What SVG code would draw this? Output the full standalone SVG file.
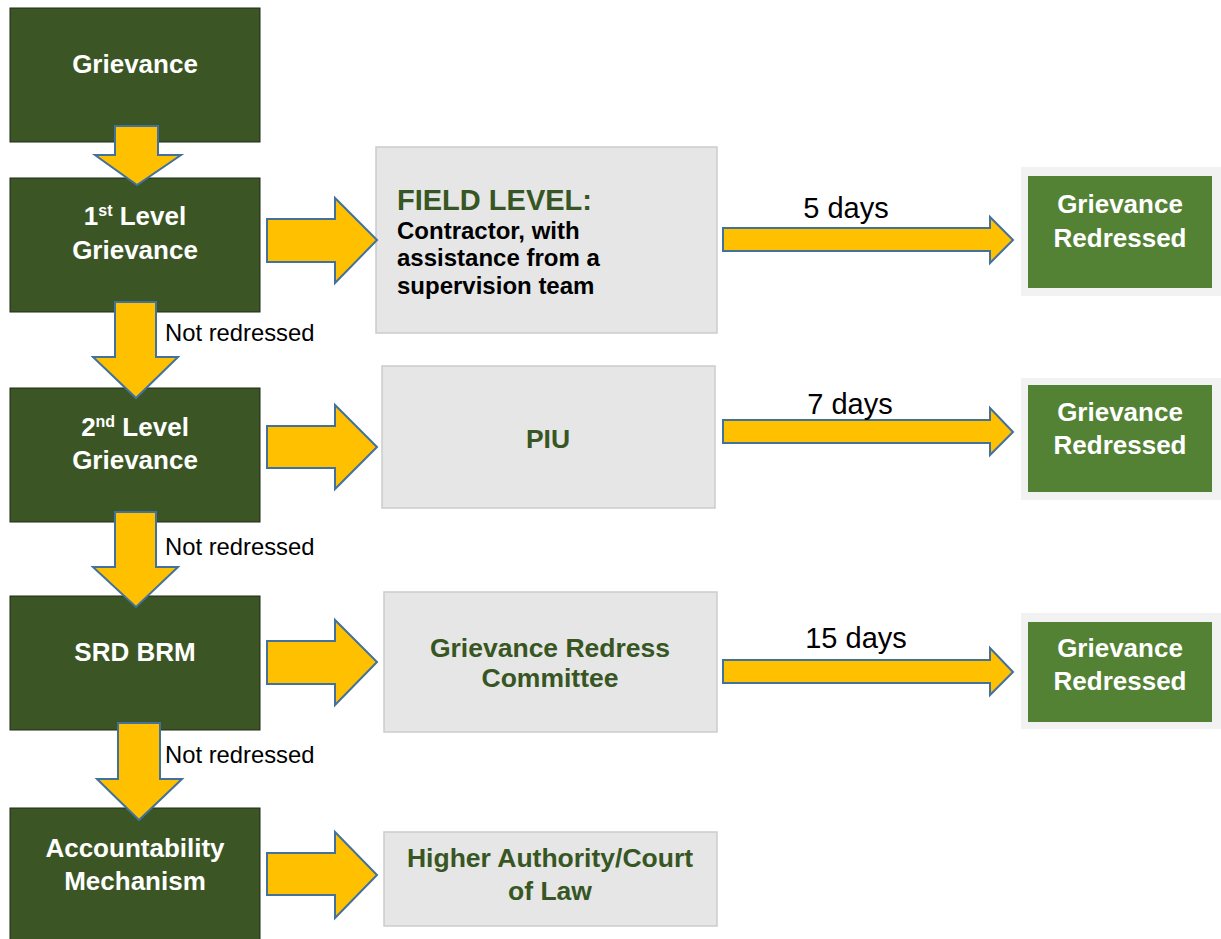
<svg xmlns="http://www.w3.org/2000/svg" width="1221" height="939" viewBox="0 0 1221 939">
<style>
.dk{fill:#3b5624;stroke:#1e2a14;stroke-width:1}
.gr{fill:#e6e6e6;stroke:#cccccc;stroke-width:1.5}
.fr{fill:#f2f2f2}
.lg{fill:#548235}
.ar{fill:#ffc000;stroke:#41719c;stroke-width:2;stroke-linejoin:miter}
.wt{font-family:"Liberation Sans",Arial,sans-serif;font-weight:bold;font-size:26px;fill:#ffffff;text-anchor:middle}
.gt{font-family:"Liberation Sans",Arial,sans-serif;font-weight:bold;font-size:26.5px;fill:#375623;text-anchor:middle}
.bl{font-family:"Liberation Sans",Arial,sans-serif;font-size:23.8px;fill:#000000}
.dy{font-family:"Liberation Sans",Arial,sans-serif;font-size:29px;fill:#000000;text-anchor:middle}
.bk{font-family:"Liberation Sans",Arial,sans-serif;font-weight:bold;font-size:24px;fill:#000000}
</style>
<g id="n-grievance"><rect class="dk" x="10" y="8" width="250" height="134"/><text class="wt" x="135" y="73">Grievance</text></g>
<g id="n-level1"><rect class="dk" x="10" y="178" width="250" height="134"/><text class="wt" x="135" y="225">1<tspan font-size="16" dy="-9">st</tspan><tspan dy="9"> Level</tspan></text><text class="wt" x="135" y="259">Grievance</text></g>
<g id="n-level2"><rect class="dk" x="10" y="388" width="250" height="134"/><text class="wt" x="135" y="436">2<tspan font-size="16" dy="-9">nd</tspan><tspan dy="9"> Level</tspan></text><text class="wt" x="135" y="469">Grievance</text></g>
<g id="n-srd"><rect class="dk" x="10" y="596" width="250" height="134"/><text class="wt" x="135" y="661">SRD BRM</text></g>
<g id="n-accountability"><rect class="dk" x="10" y="808" width="250" height="140"/><text class="wt" x="135" y="857">Accountability</text><text class="wt" x="135" y="890">Mechanism</text></g>
<g id="n-field"><rect class="gr" x="376" y="147" width="341" height="186"/><text x="397" y="210" font-family="Liberation Sans,Arial,sans-serif" font-weight="bold" font-size="29" fill="#375623">FIELD LEVEL:</text><text class="bk" x="397" y="239">Contractor, with</text><text class="bk" x="397" y="266">assistance from a</text><text class="bk" x="397" y="294">supervision team</text></g>
<g id="n-piu"><rect class="gr" x="382" y="366" width="333" height="142"/><text class="gt" x="548" y="448" font-size="28">PIU</text></g>
<g id="n-grc"><rect class="gr" x="384" y="592" width="333" height="140"/><text class="gt" x="550" y="657">Grievance Redress</text><text class="gt" x="550" y="687">Committee</text></g>
<g id="n-higher"><rect class="gr" x="384" y="832" width="333" height="94"/><text class="gt" x="550" y="867">Higher Authority/Court</text><text class="gt" x="550" y="900">of Law</text></g>
<g id="n-redressed1"><rect class="fr" x="1021" y="167" width="200" height="129"/><rect class="lg" x="1028" y="176" width="184" height="112"/><text class="wt" x="1120" y="213">Grievance</text><text class="wt" x="1120" y="247">Redressed</text></g>
<g id="n-redressed2"><rect class="fr" x="1021" y="378" width="200" height="122"/><rect class="lg" x="1028" y="385" width="184" height="107"/><text class="wt" x="1120" y="421">Grievance</text><text class="wt" x="1120" y="454">Redressed</text></g>
<g id="n-redressed3"><rect class="fr" x="1021" y="613" width="200" height="116"/><rect class="lg" x="1028" y="622" width="184" height="100"/><text class="wt" x="1120" y="657">Grievance</text><text class="wt" x="1120" y="690">Redressed</text></g>
<g id="connectors">
<polygon class="ar" points="115,126 158,126 158,155 181,155 137,185 95,155 115,155"/>
<polygon class="ar" points="115,302 156,302 156,357 178,357 136,398 93,357 115,357"/>
<polygon class="ar" points="115,512 156,512 156,567 178,567 136,607 93,567 115,567"/>
<polygon class="ar" points="118,723 160,723 160,779 182,779 139,820 97,779 118,779"/>
<polygon class="ar" points="267,219 335,219 335,198 377,240 335,283 335,262 267,262"/>
<polygon class="ar" points="267,426 335,426 335,405 377,447 335,489 335,468 267,468"/>
<polygon class="ar" points="267,641 335,641 335,620 377,662 335,705 335,684 267,684"/>
<polygon class="ar" points="267,853 335,853 335,832 377,875 335,918 335,895 267,895"/>
<polygon class="ar" points="723,228 990,228 990,217 1013,240 990,263 990,251 723,251"/>
<polygon class="ar" points="723,420 990,420 990,408 1013,432 990,455 990,443 723,443"/>
<polygon class="ar" points="723,660 990,660 990,648 1013,672 990,695 990,683 723,683"/>
<text class="bl" x="165" y="341">Not redressed</text>
<text class="bl" x="165" y="555">Not redressed</text>
<text class="bl" x="165" y="763">Not redressed</text>
<text class="dy" x="846" y="218">5 days</text>
<text class="dy" x="850" y="414">7 days</text>
<text class="dy" x="856" y="648">15 days</text>
</g>
</svg>
